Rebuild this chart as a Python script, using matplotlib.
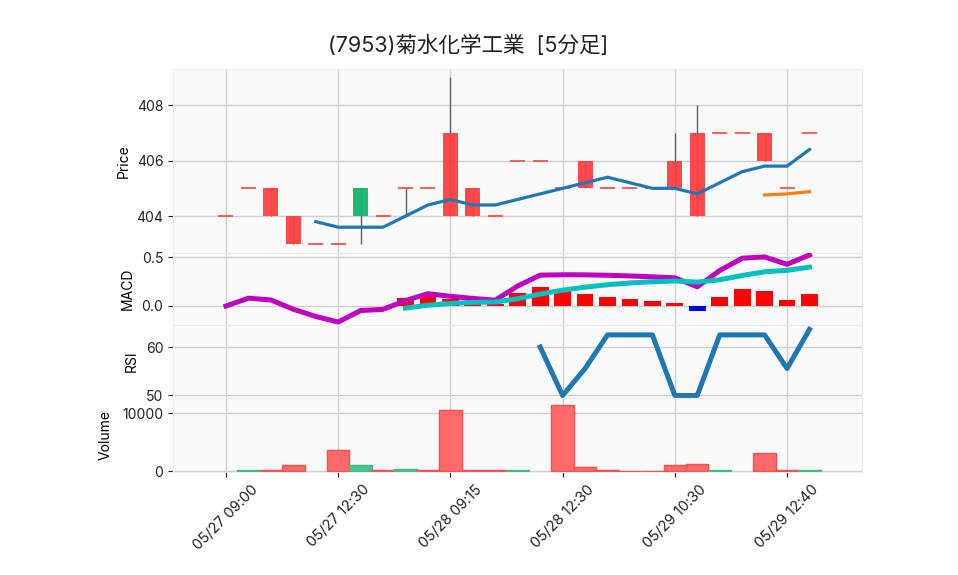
import matplotlib
matplotlib.use("Agg")
import matplotlib.pyplot as plt
import numpy as np
import pandas as pd

plt.rcParams['font.family'] = ['Inter', 'Noto Sans CJK JP', 'DejaVu Sans']

# ---- data (5-minute bars) ----
opens  = [404, 405, 405, 404, 403, 403, 404, 404, 405, 405, 407, 405, 404, 406,
          406, 405, 406, 405, 405, 405, 406, 407, 407, 407, 407, 405, 407]
closes = [404, 405, 404, 403, 403, 403, 405, 404, 405, 405, 404, 404, 404, 406,
          406, 405, 405, 405, 405, 405, 405, 404, 407, 407, 406, 405, 407]
highs  = [404, 405, 405, 404, 403, 403, 405, 404, 405, 405, 409, 405, 404, 406,
          406, 405, 406, 405, 405, 405, 407, 408, 407, 407, 407, 405, 407]
lows   = [404, 405, 404, 403, 403, 403, 403, 404, 404, 405, 404, 404, 404, 406,
          406, 405, 405, 405, 405, 405, 405, 404, 407, 407, 406, 405, 407]
volumes = [0, 100, 200, 1070, 0, 3650, 1070, 100, 430, 200, 10550, 200, 200, 100,
           0, 11460, 720, 260, 80, 80, 1070, 1290, 100, 0, 3190, 100, 100]
tick_labels = ['05/27 09:00', '05/27 12:30', '05/28 09:15',
               '05/28 12:30', '05/29 10:30', '05/29 12:40']
tick_step = 5
title = '(7953)菊水化学工業  [5分足]'

# ---- derived indicators ----
c = pd.Series(closes, dtype=float)
ma5 = c.rolling(5).mean()
ma25 = c.rolling(25).mean()
ema12 = c.ewm(span=12, adjust=False).mean()
ema26 = c.ewm(span=26, adjust=False).mean()
macd = ema12 - ema26
signal = macd.ewm(span=9, adjust=False, min_periods=9).mean()
hist = macd - signal
d = c.diff()
gain = d.clip(lower=0).rolling(14).mean()
loss = (-d.clip(upper=0)).rolling(14).mean()
rsi = 100 * gain / (gain + loss)

n = len(closes)
x = np.arange(n)

W, H = 958, 575
fig = plt.figure(figsize=(W / 100, H / 100), dpi=100)

def mkax(top, bottom):
    return fig.add_axes([173 / W, 1 - bottom / H, (862 - 173) / W, (bottom - top) / H])

ax_p = mkax(69, 253)
ax_m = mkax(253, 325)
ax_r = mkax(325, 398)
ax_v = mkax(398, 472)

bg = '#fafafa'
grid_c = '#d0d0d0'
for ax in (ax_p, ax_m, ax_r, ax_v):
    ax.set_facecolor(bg)
    ax.grid(True, color=grid_c, lw=1.0)
    ax.set_axisbelow(True)
    for s in ax.spines.values():
        s.set_color('#ececec')
        s.set_linewidth(0.8)
    ax.set_xlim(-2.36, 28.34)
    ax.tick_params(axis='both', colors='#222222', labelsize=10, length=3.5, width=0.8)
    ax.set_xticks(x[::tick_step])
    ax.tick_params(axis='x', labelbottom=False)

up_c = '#16b46e'
dn_c = '#ff4040'
wick_c = '#606060'

# ---- price panel ----
o = np.array(opens, float); cl = np.array(closes, float)
hi = np.array(highs, float); lo = np.array(lows, float)
ax_p.vlines(x, lo, hi, color=wick_c, lw=1.0, zorder=2)
body_col = [up_c if cc > oo else dn_c for oo, cc in zip(o, cl)]
bot = np.minimum(o, cl)
ht = np.abs(cl - o)
mask = ht > 0
ax_p.bar(x[mask], ht[mask], bottom=bot[mask], width=0.67,
         color=[body_col[i] for i in np.where(mask)[0]], alpha=0.95, zorder=3, lw=0)
dj = ~mask
ax_p.hlines(cl[dj], x[dj] - 0.335, x[dj] + 0.335, color=dn_c, lw=1.2, zorder=3)
ax_p.plot(x, ma5, color='#1f77b4', lw=2.3, zorder=4)
ax_p.plot(x, ma25, color='#ff7f0e', lw=2.3, zorder=4)
ax_p.set_ylim(402.67, 409.30)
ax_p.set_yticks([404, 406, 408])
ax_p.set_ylabel('Price', fontsize=10)

# ---- MACD panel ----
hv = hist.values
hcol = ['#ff0000' if v >= 0 else '#0000ff' for v in np.nan_to_num(hv)]
ax_m.bar(x, hv, width=0.75, color=hcol, zorder=2, lw=0)
ax_m.plot(x, macd, color='#bf00bf', lw=3.6, zorder=3)
ax_m.plot(x, signal, color='#00bfbf', lw=3.6, zorder=4)
ax_m.set_ylim(-0.194, 0.541)
ax_m.set_yticks([0.0, 0.5])
ax_m.set_ylabel('MACD', fontsize=10)

# ---- RSI panel ----
ax_r.plot(x, rsi, color='#1f77b4', lw=3.6, zorder=3)
ax_r.set_ylim(49.48, 64.54)
ax_r.set_yticks([50, 60])
ax_r.set_ylabel('RSI', fontsize=10)

# ---- Volume panel ----
vcol = []
vedge = []
for i in range(n):
    if i > 0 and closes[i] > closes[i - 1]:
        vcol.append('#4cc48e'); vedge.append('#3dbb82')
    else:
        vcol.append('#ff6b6b'); vedge.append('#ff4d4d')
vol = np.array(volumes, float)
vm = vol > 0
ax_v.bar(x[vm], vol[vm], width=1.0, color=[vcol[i] for i in np.where(vm)[0]],
         edgecolor=[vedge[i] for i in np.where(vm)[0]], lw=1.0, zorder=2)
ax_v.set_ylim(-170, 12586)
ax_v.set_yticks([0, 10000])
ax_v.set_ylabel('Volume', fontsize=10)
ax_v.tick_params(axis='x', labelbottom=True, pad=4)
ax_v.set_xticklabels(tick_labels, rotation=45, ha='center', fontsize=10.5)

# y label positions
ax_p.yaxis.set_label_coords(-0.062, 0.5)
ax_m.yaxis.set_label_coords(-0.055, 0.5)
ax_r.yaxis.set_label_coords(-0.049, 0.5)
ax_v.yaxis.set_label_coords(-0.088, 0.5)

fig.text(468 / W, 1 - 45 / H, title, ha='center', va='center', fontsize=15.5, color='#222222')

fig.savefig('out.png', dpi=100, facecolor='white')
